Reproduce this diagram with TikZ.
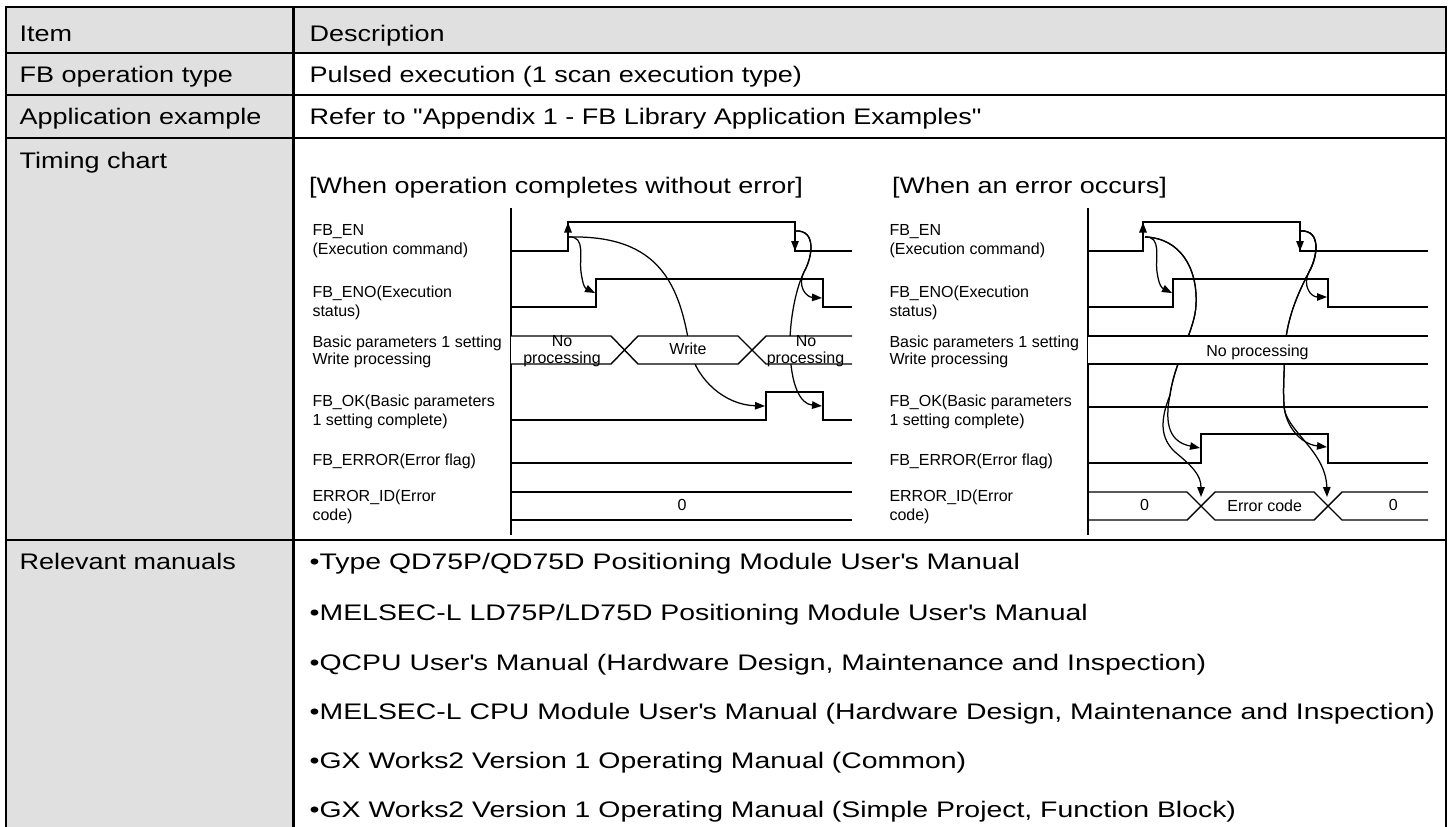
\documentclass[tikz,border=0pt]{standalone}
\usepackage{fontspec}
\setmainfont{Liberation Sans}
\newfontfamily\tabfont{Liberation Sans}[FakeStretch=1.2]
\newfontfamily\manfont{Liberation Sans}[FakeStretch=1.262]
\usetikzlibrary{arrows.meta}
\definecolor{cellgray}{RGB}{224,224,224}

\begin{document}
\begin{tikzpicture}[x=1pt,y=-1pt,
  rule/.style={line width=2.8pt},
  sig/.style={line width=1.4pt},
  cue/.style={line width=1.25pt,-{Triangle[length=10pt,width=7.5pt]}},
  tabcell/.style={anchor=base west,inner sep=0pt,font=\tabfont\fontsize{22.5}{27}\selectfont},
  mancell/.style={anchor=base west,inner sep=0pt,font=\manfont\fontsize{22.5}{27}\selectfont},
  lbl/.style={anchor=base west,inner sep=0pt,font=\fontsize{16}{19}\selectfont},
  bustxt/.style={anchor=base,inner sep=0pt,font=\fontsize{16}{19}\selectfont}]
\useasboundingbox (0,0) rectangle (1454,827);

% ---------- table background ----------
\fill[cellgray] (6,7) rectangle (1446,53);
\fill[cellgray] (6,53) rectangle (293.5,827);

% ---------- table text ----------
\node[tabcell] (hItem) at (19.5,41) {Item};
\node[tabcell] (hDesc) at (309.5,41) {Description};
\node[tabcell] (kType) at (19.5,82) {FB operation type};
\node[tabcell] (vType) at (309.5,82) {Pulsed execution (1 scan execution type)};
\node[tabcell] (kApp) at (19.5,124) {Application example};
\node[tabcell] (vApp) at (309.5,124) {Refer to "Appendix 1 - FB Library Application Examples"};
\node[tabcell] (kTime) at (19.5,168) {Timing chart};
\node[tabcell] (okHead) at (309,193) {[When operation completes without error]};
\node[tabcell] (erHead) at (892,193) {[When an error occurs]};
\node[tabcell] (kMan) at (19.5,569.5) {Relevant manuals};
\node[mancell] (m1) at (309.5,569.5) {\textbullet Type QD75P/QD75D Positioning Module User\textquotesingle s Manual};
\node[mancell] (m2) at (309.5,620.5) {\textbullet MELSEC-L LD75P/LD75D Positioning Module User\textquotesingle s Manual};
\node[mancell] (m3) at (309.5,670) {\textbullet QCPU User\textquotesingle s Manual (Hardware Design, Maintenance and Inspection)};
\node[mancell] (m4) at (309.5,719) {\textbullet MELSEC-L CPU Module User\textquotesingle s Manual (Hardware Design, Maintenance and Inspection)};
\node[mancell] (m5) at (309.5,768) {\textbullet GX Works2 Version 1 Operating Manual (Common)};
\node[mancell] (m6) at (309.5,817.5) {\textbullet GX Works2 Version 1 Operating Manual (Simple Project, Function Block)};

% ---------- signal labels (both charts) ----------
\foreach \lx/\tag in {312.3/L,889.3/R}{
  \node[lbl] (en\tag a) at (\lx,235) {FB\_EN};
  \node[lbl] (en\tag b) at (\lx,254) {(Execution command)};
  \node[lbl] (eno\tag a) at (\lx,297) {FB\_ENO(Execution};
  \node[lbl] (eno\tag b) at (\lx,316) {status)};
  \node[lbl] (wr\tag a) at (\lx,347.5) {Basic parameters 1 setting};
  \node[lbl] (wr\tag b) at (\lx,364.8) {Write processing};
  \node[lbl] (ok\tag a) at (\lx,406.7) {FB\_OK(Basic parameters};
  \node[lbl] (ok\tag b) at (\lx,425) {1 setting complete)};
  \node[lbl] (err\tag) at (\lx,465) {FB\_ERROR(Error flag)};
  \node[lbl] (id\tag a) at (\lx,501.7) {ERROR\_ID(Error};
  \node[lbl] (id\tag b) at (\lx,520) {code)};
}

% ---------- left chart: normal completion ----------
\draw[sig] (511,208) -- (511,535);
\draw[sig] (511,251) -- (568,251) -- (568,222) -- (795,222) -- (795,251) -- (852,251);
\draw[sig] (511,307) -- (596,307) -- (596,279) -- (823,279) -- (823,307) -- (852,307);
\draw[sig] (511,420) -- (766,420) -- (766,392) -- (823,392) -- (823,420) -- (852,420);
\draw[sig] (511,463) -- (852,463);
\draw[sig] (511,492) -- (852,492);
\draw[sig] (511,520) -- (852,520);

\coordinate (LenUp) at (568,222.5);
\coordinate (LenFrom) at (569,237);
\coordinate (LenoRise) at (595,293);
\coordinate (LokRise) at (765,406);
\coordinate (LenDn) at (795,251);
\coordinate (LenFall) at (796,231);
\coordinate (LenoFall) at (822,298);
\coordinate (LokFall) at (822,406);

\draw[cue] (568,242) -- (LenUp);
\draw[cue] (795,233) -- (LenDn);
\draw[cue] (LenFrom) .. controls (586,236) and (579,258) .. (581,272)
  .. controls (583,286) and (585,288) .. (LenoRise);
\draw[cue] (LenFrom) .. controls (660,235) and (680,285) .. (690,350)
  .. controls (697,380) and (725,405) .. (LokRise);
\draw[cue] (LenFall) .. controls (816,230) and (813,256) .. (804,272)
  .. controls (797,286) and (806,297) .. (LenoFall);
\draw[cue] (LenFall) .. controls (816,230) and (813,256) .. (804,272)
  .. controls (795,290) and (789,325) .. (790,350)
  .. controls (791,385) and (800,404) .. (LokFall);

\fill[white] (511,336) rectangle (852,364);
\draw[sig] (511,336) -- (611,336) -- (638,364) -- (738,364) -- (766,336) -- (852,336);
\draw[sig] (511,364) -- (611,364) -- (638,336) -- (738,336) -- (766,364) -- (852,364);
\node[bustxt] (lNo1) at (562,346) {No};
\node[bustxt] (lPr1) at (562,363.3) {processing};
\node[bustxt] (lWr) at (688,354.3) {Write};
\node[bustxt] (lNo2) at (806,346) {No};
\node[bustxt] (lPr2) at (805.5,363.3) {processing};
\node[bustxt] (lZero) at (682,510) {0};

% ---------- right chart: error case ----------
\draw[sig] (1088,208) -- (1088,535);
\draw[sig] (1088,251) -- (1143,251) -- (1143,222) -- (1300,222) -- (1300,251) -- (1428,251);
\draw[sig] (1088,307) -- (1173,307) -- (1173,279) -- (1328,279) -- (1328,307) -- (1428,307);
\draw[sig] (1088,407) -- (1428,407);
\draw[sig] (1088,463) -- (1201,463) -- (1201,434) -- (1328,434) -- (1328,463) -- (1428,463);

\coordinate (RenUp) at (1143,222.5);
\coordinate (RenFrom) at (1145,237);
\coordinate (RenoRise) at (1172,293);
\coordinate (RerrRise) at (1200,448);
\coordinate (RidX1) at (1201,497);
\coordinate (RenDn) at (1300,251);
\coordinate (RenFall) at (1301,231);
\coordinate (RenoFall) at (1327,297);
\coordinate (RerrFall) at (1327,447);
\coordinate (RidX2) at (1327,497);

\draw[cue] (1143,242) -- (RenUp);
\draw[cue] (1300,233) -- (RenDn);
\draw[cue] (RenFrom) .. controls (1162,236) and (1155,258) .. (1157,272)
  .. controls (1159,286) and (1162,288) .. (RenoRise);
\draw[cue] (RenFrom) .. controls (1180,238) and (1198,268) .. (1196,305)
  .. controls (1195,330) and (1175,360) .. (1170,395)
  .. controls (1164,425) and (1170,442) .. (RerrRise);
\draw[cue] (RenFrom) .. controls (1180,238) and (1198,268) .. (1196,305)
  .. controls (1195,330) and (1175,360) .. (1170,395)
  .. controls (1160,420) and (1160,438) .. (1175,452)
  .. controls (1192,466) and (1201,475) .. (RidX1);
\draw[cue] (RenFall) .. controls (1321,230) and (1318,256) .. (1309,272)
  .. controls (1302,286) and (1311,297) .. (RenoFall);
\draw[cue] (RenFall) .. controls (1321,230) and (1318,256) .. (1309,272)
  .. controls (1298,293) and (1286,320) .. (1285,350)
  .. controls (1284,375) and (1283,390) .. (1284,405)
  .. controls (1285,425) and (1300,444) .. (RerrFall);
\draw[cue] (RenFall) .. controls (1321,230) and (1318,256) .. (1309,272)
  .. controls (1298,293) and (1286,320) .. (1285,350)
  .. controls (1284,375) and (1283,390) .. (1284,405)
  .. controls (1284,430) and (1326,450) .. (RidX2);

\fill[white] (1088,336) rectangle (1428,364);
\draw[sig] (1088,336) -- (1428,336);
\draw[sig] (1088,364) -- (1428,364);
\node[bustxt] (rNoProc) at (1257.5,356) {No processing};

\draw[sig] (1088,492) -- (1187,492) -- (1215,520) -- (1314,520) -- (1342,492) -- (1428,492);
\draw[sig] (1088,520) -- (1187,520) -- (1215,492) -- (1314,492) -- (1342,520) -- (1428,520);
\node[bustxt] (rZero1) at (1144.5,510) {0};
\node[bustxt] (rErr) at (1264.7,511) {Error code};
\node[bustxt] (rZero2) at (1393.3,510) {0};

% ---------- table rules ----------
\draw[rule] (6,827) -- (6,7) -- (1446,7) -- (1446,827);
\draw[rule] (293.5,7) -- (293.5,827);
\foreach \yy in {53,95,138,540} \draw[rule] (6,\yy) -- (1446,\yy);
\end{tikzpicture}
\end{document}
